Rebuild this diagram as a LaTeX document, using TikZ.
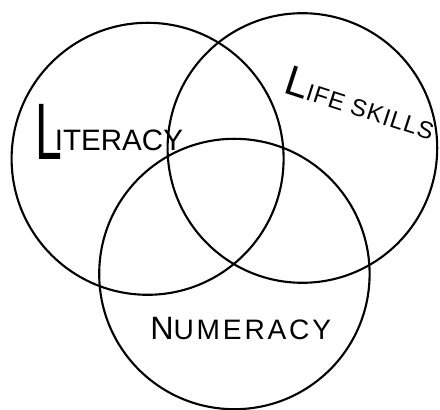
\documentclass[tikz,border=0pt]{standalone}
\usepackage{fontspec}
\setmainfont{Liberation Sans}
\usetikzlibrary{positioning}

\begin{document}
\begin{tikzpicture}[
        set/.style={draw, circle, line width=1.5pt, inner sep=0pt},
        setname/.style={inner sep=0pt, anchor=base west}
    ]
        \useasboundingbox (0,0) rectangle (11,10.25);

        % 1. The three sets
        \node[set, minimum size=6.8cm] (literacy) at (3.69,6.28) {};
        \node[set, minimum size=6.74cm] (lifeskills) at (7.56,6.55) {};
        \node[set, minimum size=6.76cm] (numeracy) at (5.86,3.40) {};

        % 2. Names of the sets
        \node[setname] (literacytext) at (0.875,6.25)
            {\scalebox{0.6}[1]{\fontsize{57}{57}\selectfont L}\kern-5pt\raisebox{7pt}{\fontsize{21}{21}\selectfont ITERACY}};
        \node[setname, rotate=-18] (lifeskillstext) at (7.05,7.95)
            {{\fontsize{30}{30}\selectfont L}{\fontsize{17}{17}\selectfont\addfontfeature{LetterSpace=4}IFE SKILLS}};
        \node[setname] (numeracytext) at (3.75,1.75)
            {{\fontsize{23}{23}\selectfont N}{\fontsize{20}{20}\selectfont\addfontfeature{LetterSpace=10}UMERACY}};

    \end{tikzpicture}
\end{document}
